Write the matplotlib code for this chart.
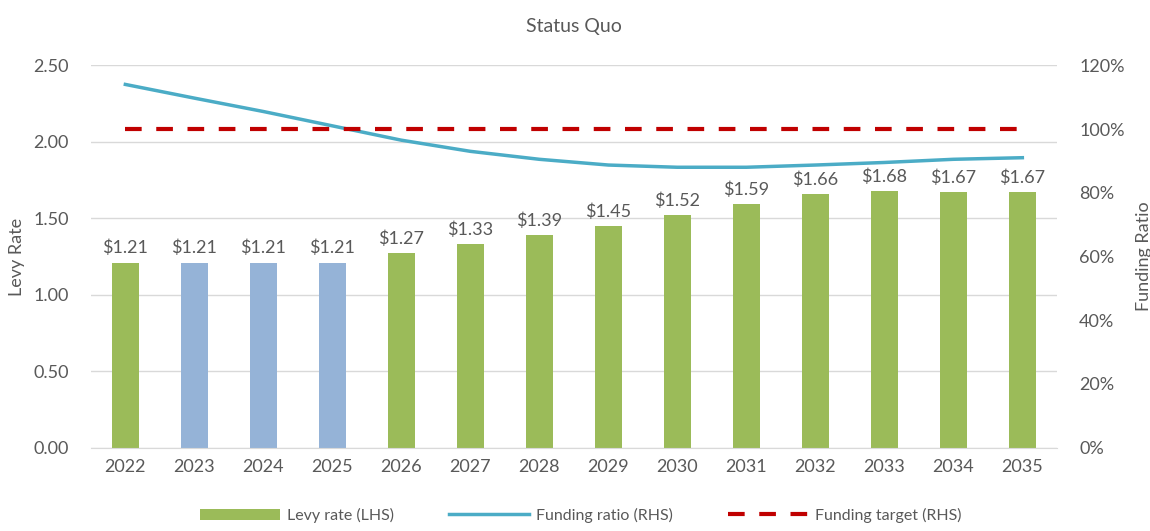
import numpy as np
import matplotlib.pyplot as plt
from matplotlib.ticker import FuncFormatter

plt.rcParams['font.family'] = ['Lato', 'DejaVu Sans']

years = [2022, 2023, 2024, 2025, 2026, 2027, 2028, 2029, 2030, 2031, 2032, 2033, 2034, 2035]
levy = [1.21, 1.21, 1.21, 1.21, 1.27, 1.33, 1.39, 1.45, 1.52, 1.59, 1.66, 1.68, 1.67, 1.67]
funding_ratio = [1.14, 1.097, 1.055, 1.01, 0.965, 0.93, 0.905, 0.887, 0.88, 0.88, 0.887, 0.895, 0.905, 0.91]
funding_target = [1.0] * len(years)
bar_colors = ['#9bbb59', '#95b3d7', '#95b3d7', '#95b3d7'] + ['#9bbb59'] * 10

txt = '#595959'
x = np.arange(len(years))

fig = plt.figure(figsize=(11.5, 5.31), dpi=100)
ax = fig.add_axes([0.079, 0.157, 0.84, 0.72])
ax2 = ax.twinx()

ax.bar(x, levy, width=0.4, color=bar_colors, zorder=2, label='Levy rate (LHS)')
for xi, v in zip(x, levy):
    ax.text(xi, v + 0.04, f'${v:.2f}', ha='center', va='bottom', fontsize=13, color=txt)

ax2.plot(x, funding_ratio, color='#4bacc6', lw=2.5, label='Funding ratio (RHS)')
ax2.plot(x, funding_target, color='#c00000', lw=3, dashes=(4, 3.5), label='Funding target (RHS)')

ax.set_ylim(0, 2.5)
ax.set_yticks(np.arange(0, 2.51, 0.5))
ax.yaxis.set_major_formatter(FuncFormatter(lambda v, p: f'{v:.2f}'))
ax2.set_ylim(0, 1.2)
ax2.set_yticks(np.arange(0, 1.21, 0.2))
ax2.yaxis.set_major_formatter(FuncFormatter(lambda v, p: f'{v*100:.0f}%'))
ax.set_xlim(-0.5, len(years) - 0.5)
ax.set_xticks(x)
ax.set_xticklabels([str(y) for y in years])

ax.grid(axis='y', color='#d9d9d9', lw=1, zorder=0)
ax.set_axisbelow(True)
for a in (ax, ax2):
    for s in a.spines.values():
        s.set_visible(False)
    a.tick_params(length=0, colors=txt, labelsize=13)
ax.spines['bottom'].set_visible(True)
ax.spines['bottom'].set_color('#d9d9d9')
ax.tick_params(axis='y', pad=16)
ax2.tick_params(axis='y', pad=16)
ax.tick_params(axis='x', pad=8)

ax.set_ylabel('Levy Rate', color=txt, fontsize=13, labelpad=6)
ax2.set_ylabel('Funding Ratio', color=txt, fontsize=13, labelpad=8)
ax.set_title('Status Quo', color=txt, fontsize=14, pad=24)

h1, l1 = ax.get_legend_handles_labels()
h2, l2 = ax2.get_legend_handles_labels()
leg = fig.legend(h1 + h2, l1 + l2, loc='lower center', bbox_to_anchor=(0.505, -0.012), ncol=3,
                 frameon=False, fontsize=11.5, handlelength=5, columnspacing=3.5, handletextpad=0.4)
for t in leg.get_texts():
    t.set_color(txt)

fig.savefig('out.png', dpi=100)
